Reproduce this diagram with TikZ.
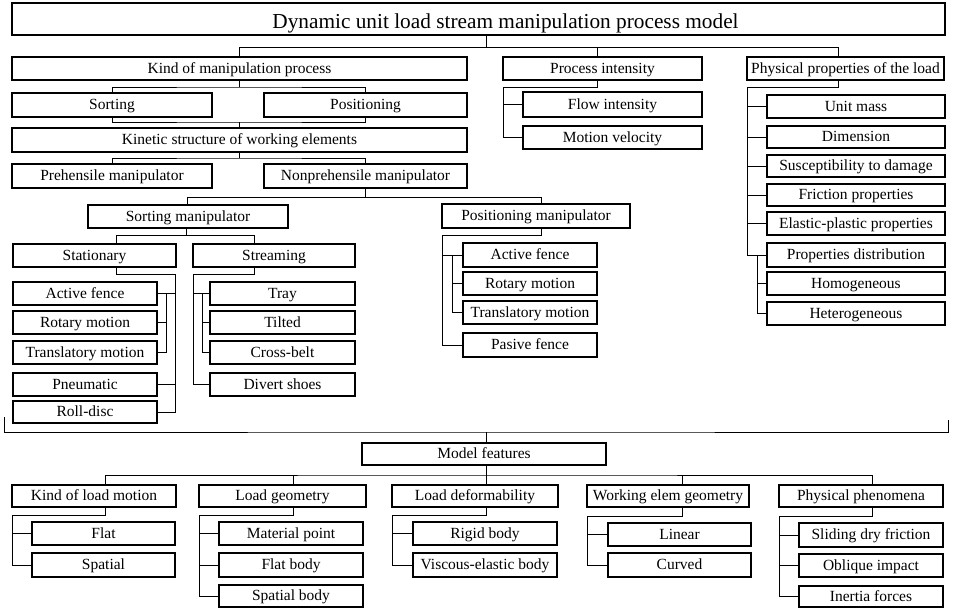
\documentclass[tikz,border=0pt]{standalone}
\usepackage{fontspec}
\setmainfont{Liberation Serif}
\usetikzlibrary{calc}
\tikzset{
  box/.style={draw, line width=1.1pt, inner sep=0pt, outer sep=0pt, fill=white,
    text height=11pt, text depth=2pt,
    font=\fontsize{15.5}{17}\selectfont},
  titlebox/.style={box, text height=18pt, text depth=0pt, font=\fontsize{21.3}{24}\selectfont},
  conn/.style={line width=1pt}
}
\newcommand\mybox[7][box]{\node[#1,minimum width={(#5)-(#3)},minimum height={(#6)-(#4)}] (#2) at ({((#3)+(#5))/2},{((#4)+(#6))/2}) {#7};}
\begin{document}
\begin{tikzpicture}[x=1pt,y=-1pt]
\path[fill=white] (0,0) rectangle (954,608);
\useasboundingbox (0,0) rectangle (954,608);

% ---------- upper part ----------
\mybox[titlebox]{title}{12}{3}{945}{35}{\hspace*{54pt}Dynamic unit load stream manipulation process model}
\mybox{kind}{12}{57}{467}{80}{Kind of manipulation process}
\mybox{pint}{503}{57}{702}{80}{Process intensity}
\mybox{phys}{747}{57}{944}{80}{Physical properties of the load}

\mybox{sorting}{12}{93}{212}{117}{Sorting}
\mybox{positioning}{264}{93}{467}{117}{Positioning}
\mybox{kinetic}{12}{128}{467}{152}{Kinetic structure of working elements}
\mybox{prehensile}{12}{164}{212}{188}{Prehensile manipulator}
\mybox{nonpre}{264}{164}{467}{188}{Nonprehensile manipulator}

\mybox{sortman}{88}{205}{288}{228}{Sorting manipulator}
\mybox{posman}{442}{204}{630}{228}{Positioning manipulator}

\mybox{stationary}{13}{244}{176}{267}{Stationary}
\mybox{streaming}{193}{244}{355}{267}{Streaming}

\mybox{sa1}{13}{282}{157}{305}{Active fence}
\mybox{sa2}{13}{311}{157}{334}{Rotary motion}
\mybox{sa3}{13}{341}{157}{364}{Translatory motion}
\mybox{sa4}{13}{373}{157}{396}{Pneumatic}
\mybox{sa5}{13}{401}{157}{423}{Roll-disc}

\mybox{st1}{210}{282}{355}{305}{Tray}
\mybox{st2}{210}{311}{355}{334}{Tilted}
\mybox{st3}{210}{341}{355}{364}{Cross-belt}
\mybox{st4}{210}{373}{355}{396}{Divert shoes}

\mybox{pa1}{463}{243}{597}{267}{Active fence}
\mybox{pa2}{463}{272}{597}{295}{Rotary motion}
\mybox{pa3}{463}{301}{597}{324}{Translatory motion}
\mybox{pa4}{463}{333}{597}{357}{Pasive fence}

\mybox{fi}{523}{92}{702}{117}{Flow intensity}
\mybox{mv}{523}{126}{702}{149}{Motion velocity}

\mybox{um}{767}{95}{945}{118}{Unit mass}
\mybox{dim}{767}{126}{945}{148}{Dimension}
\mybox{sus}{767}{155}{945}{177}{Susceptibility to damage}
\mybox{fric}{767}{184}{945}{206}{Friction properties}
\mybox{ep}{767}{212}{945}{235}{Elastic-plastic properties}
\mybox{pd}{767}{243}{945}{267}{Properties distribution}
\mybox{hom}{767}{272}{945}{295}{Homogeneous}
\mybox{het}{767}{302}{945}{325}{Heterogeneous}

% ---------- lower part ----------
\mybox{mf}{362}{443}{606}{465}{Model features}
\mybox{klm}{12}{485}{176}{507}{Kind of load motion}
\mybox{lg}{199}{485}{366}{507}{Load geometry}
\mybox{ld}{392}{485}{558}{507}{Load deformability}
\mybox{weg}{587}{485}{749}{507}{Working elem geometry}
\mybox{pp}{779}{485}{943}{507}{Physical phenomena}

\mybox{flat}{32}{522}{175}{545}{Flat}
\mybox{spatial}{32}{553}{175}{577}{Spatial}
\mybox{mp}{219}{522}{363}{545}{Material point}
\mybox{fb}{219}{553}{363}{577}{Flat body}
\mybox{sb}{219}{585}{363}{607}{Spatial body}
\mybox{rb}{413}{522}{557}{545}{Rigid body}
\mybox{veb}{413}{553}{557}{577}{Viscous-elastic body}
\mybox{lin}{608}{523}{751}{546}{Linear}
\mybox{cur}{608}{553}{751}{577}{Curved}
\mybox{sdf}{799}{523}{943}{547}{Sliding dry friction}
\mybox{oi}{799}{554}{943}{577}{Oblique impact}
\mybox{inf}{799}{586}{943}{607}{Inertia forces}

% ---------- coordinates ----------
\coordinate (b1) at (486,47);
\coordinate (b1l) at (239.5,47);
\coordinate (b1m) at (597,47);
\coordinate (b1r) at (838,47);
\coordinate (b2) at (239.5,87);
\coordinate (b3) at (239.5,122);
\coordinate (b4) at (239.5,158);
\coordinate (b5) at (365.5,197);
\coordinate (b5l) at (187,197);
\coordinate (b5r) at (541,197);
\coordinate (c6) at (186,235);
\coordinate (c6a) at (116,235);
\coordinate (c6b) at (254,235);
\coordinate (s1) at (116,274);
\coordinate (s2) at (175,274);
\coordinate (s3) at (166,274);
\coordinate (t1) at (254,274);
\coordinate (t2) at (193,274);
\coordinate (t3) at (202,274);
\coordinate (p1) at (541,235);
\coordinate (p2) at (442,235);
\coordinate (p3) at (452,235);
\coordinate (q1) at (597,87);
\coordinate (q2) at (503,87);
\coordinate (r1) at (838,87);
\coordinate (r2) at (747,87);
\coordinate (r3) at (757,87);
\coordinate (sepL) at (4,417);
\coordinate (sepR) at (948,420);
\coordinate (sepY) at (486,432);
\coordinate (m1) at (486,475);
\coordinate (k1) at (105,515);
\coordinate (k2) at (12,515);
\coordinate (g1) at (293,515);
\coordinate (g2) at (199,515);
\coordinate (d1) at (486,515);
\coordinate (d2) at (392,515);
\coordinate (w1) at (682,516);
\coordinate (w2) at (587,516);
\coordinate (h1) at (872,516);
\coordinate (h2) at (779,516);

% ---------- connectors, upper part ----------
\draw[conn] (title.south -| b1) -- (b1);
\draw[conn] (kind.north -| b1l) -- (b1l) -- (b1r) -- (phys.north -| b1r);
\draw[conn] (b1m) -- (pint.north -| b1m);

\draw[conn] (kind.south) -- (b2);
\draw[conn] (sorting.north) |- (b2) -| (positioning.north);
\draw[conn] (sorting.south) |- (b3) -| (positioning.south);
\draw[conn] (b3) -- (kinetic.north);
\draw[conn] (kinetic.south) -- (b4);
\draw[conn] (prehensile.north) |- (b4) -| (nonpre.north);

\draw[conn] (nonpre.south) -- (b5);
\draw[conn] (sortman.north -| b5l) -- (b5l) -- (b5r) -- (posman.north -| b5r);

\draw[conn] (sortman.south -| c6) -- (c6);
\draw[conn] (stationary.north -| c6a) -- (c6a) -- (c6b) -- (streaming.north -| c6b);

% stationary
\draw[conn] (stationary.south -| s1) -- (s1) -- (s2) |- (sa5.east);
\draw[conn] (sa1.east) -- (sa1.east -| s2);
\draw[conn] (sa4.east) -- (sa4.east -| s2);
\draw[conn] (sa1.east -| s3) |- (sa3.east);
\draw[conn] (sa2.east) -- (sa2.east -| s3);

% streaming
\draw[conn] (streaming.south -| t1) -- (t1) -- (t2) |- (st4.west);
\draw[conn] (st1.west) -- (st1.west -| t2);
\draw[conn] (st1.west -| t3) |- (st3.west);
\draw[conn] (st2.west) -- (st2.west -| t3);

% positioning manipulator
\draw[conn] (posman.south -| p1) -- (p1) -- (p2) |- (pa4.west);
\draw[conn] (pa1.west) -- (pa1.west -| p2);
\draw[conn] (pa1.west -| p3) |- (pa3.west);
\draw[conn] (pa2.west) -- (pa2.west -| p3);

% process intensity
\draw[conn] (pint.south -| q1) -- (q1) -- (q2) |- (mv.west);
\draw[conn] (fi.west) -- (fi.west -| q2);

% physical properties
\draw[conn] (phys.south -| r1) -- (r1) -- (r2) |- (pd.west);
\draw[conn] (um.west) -- (um.west -| r2);
\draw[conn] (dim.west) -- (dim.west -| r2);
\draw[conn] (sus.west) -- (sus.west -| r2);
\draw[conn] (fric.west) -- (fric.west -| r2);
\draw[conn] (ep.west) -- (ep.west -| r2);
\draw[conn] (pd.west -| r3) |- (het.west);
\draw[conn] (hom.west) -- (hom.west -| r3);

% ---------- separator bracket ----------
\draw[conn] (sepL) |- (sepY) -| (sepR);
\draw[conn] (sepY) -- (mf.north -| sepY);

% ---------- connectors, lower part ----------
\draw[conn] (mf.south -| m1) -- (m1);
\draw[conn] (klm.north -| k1) |- (m1) -| (pp.north -| h1);
\draw[conn] (g1 |- m1) -- (lg.north -| g1);
\draw[conn] (m1) -- (ld.north -| m1);
\draw[conn] (w1 |- m1) -- (weg.north -| w1);

\draw[conn] (klm.south -| k1) -- (k1) -- (k2) |- (spatial.west);
\draw[conn] (flat.west) -- (flat.west -| k2);

\draw[conn] (lg.south -| g1) -- (g1) -- (g2) |- (sb.west);
\draw[conn] (mp.west) -- (mp.west -| g2);
\draw[conn] (fb.west) -- (fb.west -| g2);

\draw[conn] (ld.south -| d1) -- (d1) -- (d2) |- (veb.west);
\draw[conn] (rb.west) -- (rb.west -| d2);

\draw[conn] (weg.south -| w1) -- (w1) -- (w2) |- (cur.west);
\draw[conn] (lin.west) -- (lin.west -| w2);

\draw[conn] (pp.south -| h1) -- (h1) -- (h2) |- (inf.west);
\draw[conn] (sdf.west) -- (sdf.west -| h2);
\draw[conn] (oi.west) -- (oi.west -| h2);
\end{tikzpicture}
\end{document}
